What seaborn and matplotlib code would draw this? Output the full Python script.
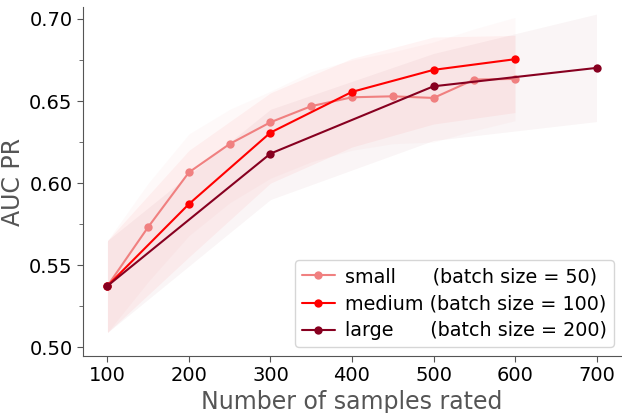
import numpy as np
import pandas as pd
import matplotlib
matplotlib.use("Agg")
import matplotlib.pyplot as plt
import seaborn as sns
from matplotlib.ticker import MultipleLocator

sns.set_style("ticks")
plt.rcParams['font.family'] = ['DejaVu Sans']

# data
small_x = [100, 150, 200, 250, 300, 350, 400, 450, 500, 550, 600]
small_y = [0.5374, 0.5733, 0.6066, 0.6239, 0.6371, 0.6469, 0.6523, 0.6529, 0.6519, 0.6631, 0.6635]
small_lo = [0.509, 0.540, 0.568, 0.588, 0.603, 0.613, 0.620, 0.624, 0.625, 0.632, 0.638]
small_hi = [0.565, 0.600, 0.630, 0.645, 0.656, 0.668, 0.675, 0.680, 0.686, 0.694, 0.701]

medium_x = [100, 200, 300, 400, 500, 600]
medium_y = [0.5374, 0.5873, 0.6308, 0.6556, 0.6690, 0.6755]
medium_lo = [0.509, 0.555, 0.600, 0.622, 0.636, 0.643]
medium_hi = [0.565, 0.620, 0.655, 0.676, 0.689, 0.690]

large_x = [100, 300, 500, 700]
large_y = [0.5374, 0.6180, 0.6590, 0.6702]
large_lo = [0.509, 0.590, 0.626, 0.6375]
large_hi = [0.565, 0.645, 0.679, 0.703]

labels = ["small      (batch size = 50)",
          "medium (batch size = 100)",
          "large      (batch size = 200)"]
colors = ["#f08080", "#ff0000", "#870020"]

series = [(small_x, small_y, small_lo, small_hi),
          (medium_x, medium_y, medium_lo, medium_hi),
          (large_x, large_y, large_lo, large_hi)]

frames = []
for lab, (xs, ys, lo, hi) in zip(labels, series):
    frames.append(pd.DataFrame({"n": xs, "auc": ys, "lo": lo, "hi": hi, "model": lab}))
df = pd.concat(frames, ignore_index=True)

fig = plt.figure(figsize=(6.22, 4.13), dpi=100)
ax = fig.add_axes([83/622, (413-356)/413, (621-83)/622, (356-7)/413])

for lab, col, a in zip(labels, colors, [0.045, 0.045, 0.04]):
    sub = df[df.model == lab]
    ax.fill_between(sub.n, sub.lo, sub.hi, color=col, alpha=a, linewidth=0)

sns.lineplot(data=df, x="n", y="auc", hue="model", palette=colors, hue_order=labels,
             marker="o", markersize=6, markeredgewidth=0, linewidth=1.5, ax=ax)

ax.set_xlim(70, 730)
ax.set_ylim(0.4947, 0.7073)
ax.set_xticks([100, 200, 300, 400, 500, 600, 700])
ax.set_yticks([0.50, 0.55, 0.60, 0.65, 0.70])
ax.yaxis.set_minor_locator(MultipleLocator(0.025))
ax.yaxis.set_major_formatter(matplotlib.ticker.FormatStrFormatter('%.2f'))
ax.tick_params(axis='both', which='major', labelsize=14, length=4, color='#555555',
               labelcolor='black')
ax.tick_params(axis='y', which='minor', length=3, color='#555555')
for s in ['top', 'right']:
    ax.spines[s].set_visible(False)
for s in ['left', 'bottom']:
    ax.spines[s].set_color('#555555')

ax.set_xlabel("Number of samples rated", fontsize=17, color='#555555', labelpad=3)
ax.set_ylabel("AUC PR", fontsize=17, color='#555555', labelpad=3)

leg = ax.legend(loc='lower right', fontsize=13.8, frameon=True, handlelength=1.7,
                borderpad=0.35, labelspacing=0.42, handletextpad=0.55,
                borderaxespad=0, bbox_to_anchor=((614-83)/538, 9/349))
for t in leg.get_texts():
    t.set_color('black')
fig.savefig("out.png", dpi=100)
